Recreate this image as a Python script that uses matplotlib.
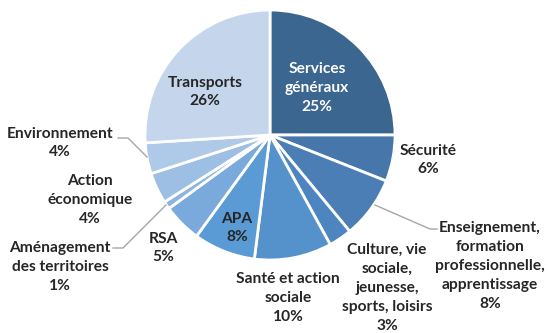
import matplotlib.pyplot as plt

# Données
labels = ["Services\ngénéraux", "Sécurité", "Enseignement,\nformation\nprofessionnelle,\napprentissage",
          "Culture, vie\nsociale,\njeunesse,\nsports, loisirs", "Santé et action\nsociale", "APA", "RSA",
          "Aménagement\ndes territoires", "Action\néconomique", "Environnement", "Transports"]
values = [25, 6, 8, 3, 10, 8, 5, 1, 4, 4, 26]
colors = ["#3B6690", "#4676AA", "#4A7EB5", "#4C85BF", "#5592CB", "#5B9BD5", "#7AA9DB",
          "#8DB4DF", "#9EBFE4", "#AFCAE9", "#C5D6EC"]

# Positions des étiquettes (pixels, origine en haut à gauche)
label_pos = [(317, 88), (428, 160), (490, 266), (387, 288), (288, 298), (237, 228), (163, 248),
             (60, 267), (90, 200), (60, 143), (205, 92)]

W, H = 551, 333
fig = plt.figure(figsize=(W / 100, H / 100), dpi=100)
ax = fig.add_axes([0, 0, 1, 1])

ax.pie(values, colors=colors, startangle=90, counterclock=False,
       center=(270, H - 135), radius=125, frame=True,
       wedgeprops=dict(edgecolor="white", linewidth=2))
ax.set_xlim(0, W)
ax.set_ylim(0, H)
ax.set_aspect("equal")
ax.axis("off")

for i, (lab, v) in enumerate(zip(labels, values)):
    x, y = label_pos[i]
    c = "white" if i == 0 else "#262626"
    ax.text(x, H - y, f"{lab}\n{v}%", ha="center", va="center", fontsize=11.2,
            fontweight="bold", family="Lato", color=c, linespacing=1.45)

# Lignes de rappel
lines = [[(118, 138), (128, 138), (147, 157)],
         [(113, 248), (123, 248), (166, 205)],
         [(375, 205), (430, 229), (437, 229)]]
for pts in lines:
    ax.plot([p[0] for p in pts], [H - p[1] for p in pts], color="#A6A6A6", linewidth=1)

fig.savefig("out.png", dpi=100)
